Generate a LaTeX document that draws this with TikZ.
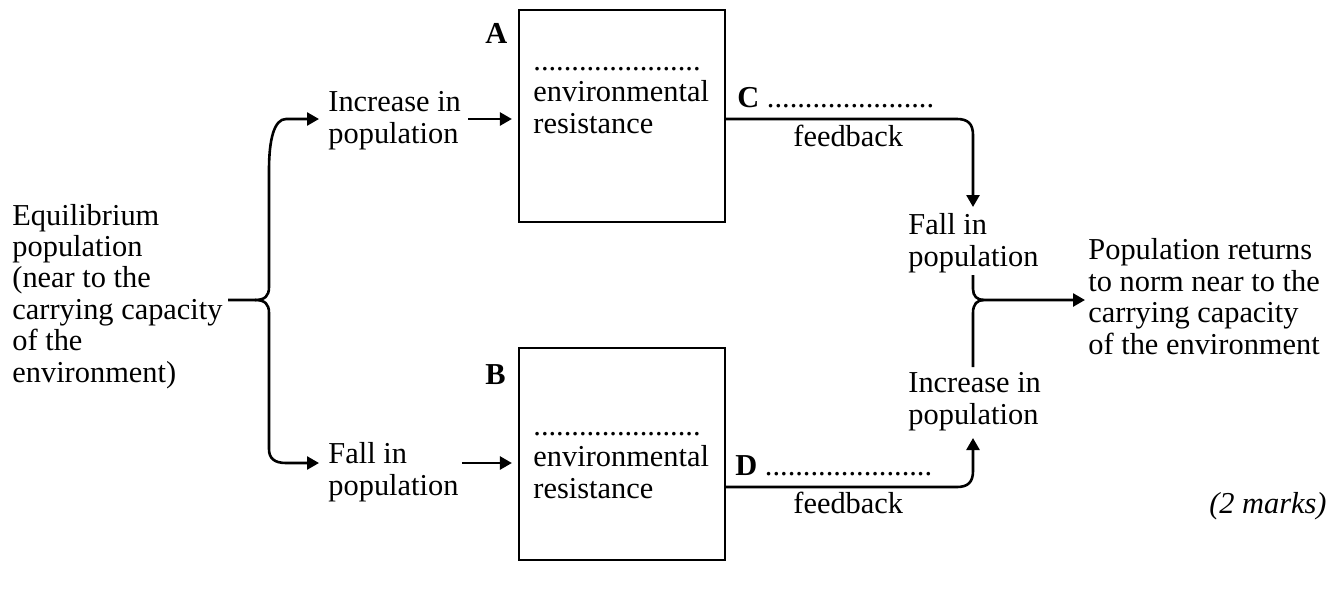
\documentclass[tikz,border=0pt]{standalone}
\usepackage{fontspec}
\setmainfont{Liberation Serif}
\usetikzlibrary{arrows.meta}
\tikzset{
  txt/.style={inner sep=0pt, align=left, anchor=base west, font=\fontsize{15.2}{15.7}\selectfont},
  lbl/.style={inner sep=0pt, anchor=base west, font=\fontsize{15.2}{15.7}\selectfont\bfseries},
  conn/.style={line width=1.3pt, -{Triangle[length=6pt,width=6.5pt]}},
  plain/.style={line width=1.3pt},
  boxst/.style={draw, line width=1.1pt, inner sep=0pt, minimum width=103pt, minimum height=106pt},
}
\begin{document}
\begin{tikzpicture}[x=0.5pt, y=-0.5pt]
\useasboundingbox (0,0) rectangle (1344,590);
% nodes (anchor = baseline of the last line)
\node[txt] (eq) at (12,382) {Equilibrium\\population\\(near to the\\carrying capacity\\of the\\environment)};
\node[txt] (inc1) at (328,143) {Increase in\\population};
\node[txt] (fall1) at (328,495) {Fall in\\population};
\node[boxst] (boxA) at (622,116) {};
\node[boxst] (boxB) at (622,454) {};
\node[lbl] (la) at (485,43) {A};
\node[lbl] (lb) at (485,384) {B};
\node[txt] (ta) at (533,133) {......................\\environmental\\resistance};
\node[txt] (tb) at (533,498) {......................\\environmental\\resistance};
\node[txt] (lc) at (737,107) {\textbf{C} ......................};
\node[txt] (ld) at (735,475) {\textbf{D} ......................};
\node[txt] (fa) at (793,146) {feedback};
\node[txt] (fb) at (793,513) {feedback};
\node[txt] (fall2) at (908,266) {Fall in\\population};
\node[txt] (inc2) at (908,424) {Increase in\\population};
\node[txt] (ret) at (1088,354) {Population returns\\to norm near to the\\carrying capacity\\of the environment};
\node[txt, anchor=base east] (marks) at (1327,513) {\itshape (2 marks)};
% coordinates
\coordinate (b0) at (228,300);
\coordinate (br) at (255,300);
\coordinate (t1) at (286,119);
\coordinate (t2) at (286,463);
\coordinate (a1) at (0,119);
\coordinate (a2) at (0,463);
\coordinate (c1) at (0,119);
\coordinate (c2) at (957,119);
\coordinate (d1) at (0,487);
\coordinate (d2) at (957,487);
\coordinate (mt) at (973,275);
\coordinate (mb) at (973,367);
\coordinate (mj) at (984,300);
% brace
\draw[conn, shorten >=4.5pt] (b0) -- (br) .. controls (265,300) and (269,296) .. (269,287) -- (269,170) .. controls (269,140) and (274,119) .. (t1) -- (t1 -| inc1.west);
\draw[conn, shorten >=4.5pt] (br) .. controls (265,300) and (269,304) .. (269,313) -- (269,449) .. controls (269,458) and (274,463) .. (t2) -- (t2 -| fall1.west);
% into boxes
\draw[conn, shorten <=3.5pt, shorten >=3pt] (a1 -| inc1.east) -- (a1 -| boxA.west);
\draw[conn, shorten <=1.5pt, shorten >=3pt] (a2 -| fall1.east) -- (a2 -| boxB.west);
% feedback lines
\draw[conn, shorten >=3pt] (c1 -| boxA.east) -- (c2) .. controls (968,119) and (973,124) .. (973,135) -- (973,213);
\draw[conn] (d1 -| boxB.east) -- (d2) .. controls (968,487) and (973,482) .. (973,471) -- (973,438);
% merge
\draw[plain] (mt) -- (973,289) .. controls (973,296) and (977,300) .. (mj);
\draw[conn, shorten >=1.5pt] (mb) -- (973,313) .. controls (973,304) and (977,300) .. (mj) -- (mj -| ret.west);
\end{tikzpicture}
\end{document}
